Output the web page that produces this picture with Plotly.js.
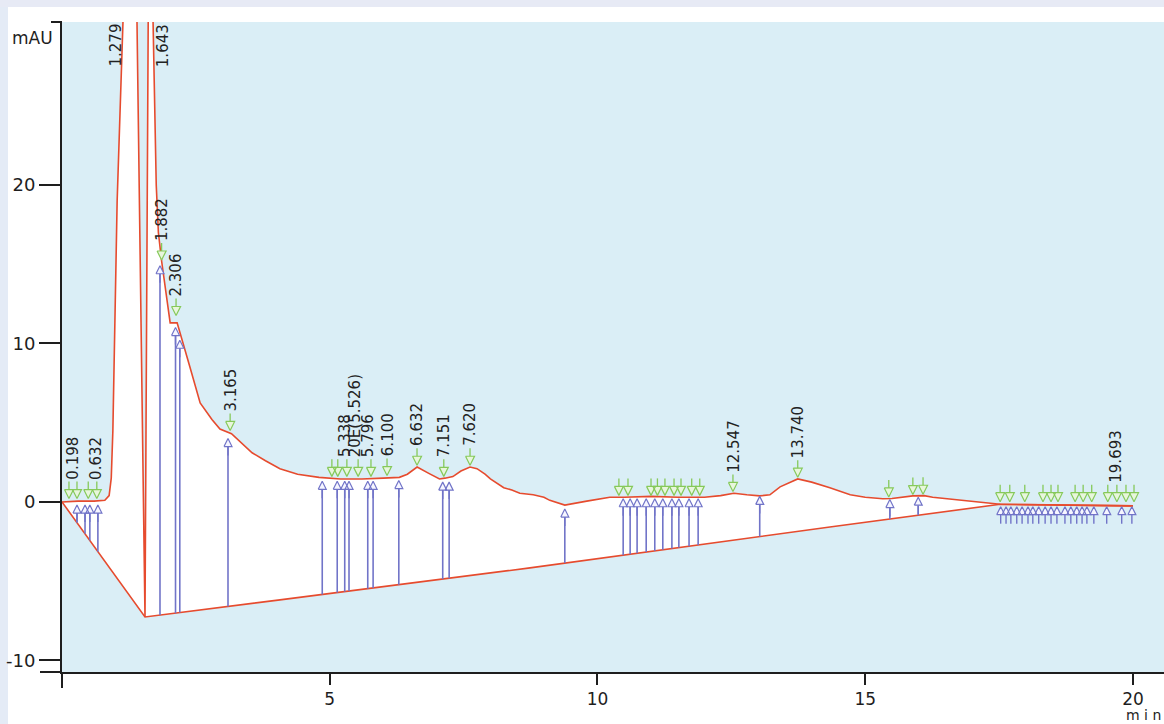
<!DOCTYPE html>
<html><head><meta charset="utf-8">
<script src="https://cdn.plot.ly/plotly-3.0.1.min.js"></script>
<style>html,body{margin:0;padding:0;background:#fff;}#chart{width:1164px;height:724px;}</style>
</head><body><div id="chart"></div>
<script>
// ---- chromatogram signal (min, mAU) ----
const sigT = [0, 0.3, 0.6, 0.8, 0.88, 0.92, 0.95, 1.03, 1.14, 1.279, 1.40, 1.55, 1.61, 1.643, 1.70, 1.76, 1.80, 1.86, 2.02, 2.15, 2.39, 2.58, 2.80, 2.95, 3.165, 3.35, 3.55, 3.8, 4.07, 4.4, 4.8, 5.2, 5.6, 6.0, 6.3, 6.45, 6.632, 6.85, 7.05, 7.151, 7.3, 7.45, 7.62, 7.75, 7.9, 8.0, 8.15, 8.25, 8.4, 8.55, 8.8, 9.0, 9.11, 9.39, 9.8, 10.23, 10.5, 11.0, 11.5, 12.0, 12.3, 12.547, 12.79, 13.03, 13.22, 13.41, 13.74, 14.0, 14.34, 14.72, 15.0, 15.33, 15.5, 15.7, 15.89, 16.1, 16.26, 16.53, 17.0, 17.52, 18.0, 18.5, 19.0, 19.5, 20.0];
const sigV = [0, 0.05, 0.05, 0.1, 0.4, 1.5, 4.5, 19, 30.4, 55, 30.4, -7.26, 30.4, 50, 30.4, 20, 17, 15.2, 11.3, 11.3, 8.5, 6.25, 5.2, 4.6, 4.3, 3.7, 3.1, 2.6, 2.1, 1.75, 1.55, 1.45, 1.45, 1.5, 1.55, 1.75, 2.2, 1.8, 1.45, 1.5, 1.6, 1.95, 2.2, 2.1, 1.75, 1.45, 1.15, 0.9, 0.75, 0.55, 0.45, 0.3, 0.1, -0.2, 0.05, 0.3, 0.3, 0.35, 0.3, 0.3, 0.4, 0.55, 0.45, 0.38, 0.45, 0.95, 1.45, 1.25, 0.9, 0.45, 0.3, 0.2, 0.22, 0.3, 0.38, 0.4, 0.3, 0.2, 0.05, -0.15, -0.17, -0.19, -0.21, -0.23, -0.25];

// ---- integration baseline ----
const baseT = [0, 1.55, 4.07, 8.74, 14.34, 17.52, 20.0];
const baseV = [0, -7.26, -6.18, -4.16, -1.58, -0.15, -0.25];

// ---- peak start/end drop lines (blue) ----
const dropT = [0.28, 0.43, 0.52, 0.67, 1.83, 2.12, 2.20, 3.10, 4.86, 5.14, 5.28, 5.36, 5.71, 5.81, 6.29, 7.11, 7.23, 9.39, 10.48, 10.61, 10.74, 10.91, 11.07, 11.22, 11.39, 11.52, 11.71, 11.88, 13.03, 15.46, 15.99, 17.53, 17.63, 17.72, 17.83, 17.93, 18.04, 18.13, 18.24, 18.36, 18.47, 18.58, 18.73, 18.84, 18.95, 19.05, 19.14, 19.27, 19.51, 19.79, 19.98];
const dropTop = [-0.2, -0.2, -0.2, -0.2, 14.9, 11.0, 10.2, 4.0, 1.3, 1.3, 1.3, 1.3, 1.3, 1.3, 1.35, 1.25, 1.25, -0.45, 0.2, 0.2, 0.2, 0.2, 0.2, 0.2, 0.2, 0.2, 0.2, 0.2, 0.35, 0.15, 0.3, -0.3, -0.3, -0.3, -0.3, -0.3, -0.3, -0.3, -0.3, -0.3, -0.3, -0.3, -0.3, -0.3, -0.3, -0.3, -0.3, -0.3, -0.3, -0.3, -0.3];
const dropBottom = [-1.31, -2.01, -2.44, -3.14, -7.14, -7.02, -6.98, -6.60, -5.84, -5.72, -5.66, -5.62, -5.47, -5.43, -5.22, -4.87, -4.81, -3.86, -3.36, -3.30, -3.24, -3.16, -3.09, -3.02, -2.94, -2.88, -2.79, -2.71, -2.18, -1.08, -0.84, -0.3, -0.3, -0.3, -0.3, -0.3, -0.3, -0.3, -0.3, -0.3, -0.3, -0.3, -0.3, -0.3, -0.3, -0.3, -0.3, -0.3, -0.3, -0.3, -0.3];

// ---- peak apex markers (green) ----
const apexT = [0.13, 0.28, 0.49, 0.65, 1.86, 2.13, 3.14, 5.04, 5.15, 5.32, 5.53, 5.77, 6.07, 6.63, 7.13, 7.62, 10.40, 10.57, 11.00, 11.12, 11.26, 11.43, 11.56, 11.76, 11.91, 12.53, 13.74, 15.44, 15.89, 16.08, 17.52, 17.70, 17.98, 18.32, 18.47, 18.60, 18.92, 19.07, 19.23, 19.53, 19.70, 19.87, 20.02];
const apexV = [0.15, 0.15, 0.15, 0.15, 15.2, 11.7, 4.45, 1.55, 1.55, 1.55, 1.55, 1.55, 1.6, 2.25, 1.55, 2.25, 0.35, 0.35, 0.35, 0.35, 0.35, 0.35, 0.35, 0.35, 0.35, 0.6, 1.5, 0.25, 0.4, 0.42, -0.05, -0.05, -0.05, -0.05, -0.05, -0.05, -0.05, -0.05, -0.05, -0.05, -0.05, -0.05, -0.05];

// ---- retention time labels ----
const labelText = ['0.198', '0.632', '1.882', '2.306', '3.165', '5.338', '20E(5.526)', '5.796', '6.100', '6.632', '7.151', '7.620', '12.547', '13.740', '19.693'];
const labelT = [0.198, 0.632, 1.86, 2.12, 3.15, 5.29, 5.46, 5.72, 6.09, 6.632, 7.14, 7.62, 12.547, 13.74, 19.693];
const labelV = [0.15, 0.15, 15.2, 11.7, 4.45, 1.55, 1.55, 1.55, 1.6, 2.25, 1.55, 2.25, 0.6, 1.5, -0.05];
const topLabelText = ['1.279', '1.643'];
const topLabelT = [0.99, 1.88];

// ---- axes ----
const xRange = [0, 20.58];
const yRange = [-10.73, 30.28];
const xTicks = [5, 10, 15, 20];
const yTicks = [-10, 0, 10, 20];
const yTickText = ['-10', '0', '10', '20'];

const W = 1164, H = 724;
const M = {l: 62, r: 0, t: 22, b: 52, pad: 0};
const plotW = W - M.l - M.r, plotH = H - M.t - M.b;
const dx = (xRange[1] - xRange[0]) / plotW;   // data units per pixel
const dy = (yRange[1] - yRange[0]) / plotH;

const RED = '#e64b2e', BLUE = '#7174c8', GREEN = '#86c95a', INK = '#1e1e1e';

// blue drop lines and up-arrow glyphs
const dlx = [], dly = [], bhx = [], bhy = [], bsx = [], bsy = [];
dropT.forEach((t, i) => {
  const top = dropTop[i], bot = dropBottom[i];
  if (bot < top - 8 * dy) { dlx.push(t, t, null); dly.push(bot, top - 8 * dy, null); }
  bhx.push(t - 4 * dx, t + 4 * dx, t, t - 4 * dx, null);
  bhy.push(top - 8 * dy, top - 8 * dy, top, top - 8 * dy, null);
  bsx.push(t, t, null);
  bsy.push(top - 8 * dy, top - 17 * dy, null);
});

// green down-arrow glyphs
const ghx = [], ghy = [], gsx = [], gsy = [];
apexT.forEach((t, i) => {
  const v = apexV[i];
  ghx.push(t - 4.5 * dx, t + 4.5 * dx, t, t - 4.5 * dx, null);
  ghy.push(v + 10 * dy, v + 10 * dy, v + 1 * dy, v + 10 * dy, null);
  gsx.push(t, t, null);
  gsy.push(v + 10 * dy, v + 18 * dy, null);
});

const traces = [
  {x: baseT, y: baseV, mode: 'lines', line: {color: RED, width: 1.6}, hoverinfo: 'skip'},
  {x: sigT, y: sigV, mode: 'lines', fill: 'tonexty', fillcolor: '#ffffff', line: {color: RED, width: 1.6}, hoverinfo: 'skip'},
  {x: dlx, y: dly, mode: 'lines', line: {color: BLUE, width: 1.6}, hoverinfo: 'skip'},
  {x: bsx, y: bsy, mode: 'lines', line: {color: BLUE, width: 1.4}, hoverinfo: 'skip'},
  {x: bhx, y: bhy, mode: 'lines', fill: 'toself', fillcolor: '#f6f6ff', line: {color: BLUE, width: 1.2}, hoverinfo: 'skip'},
  {x: gsx, y: gsy, mode: 'lines', line: {color: GREEN, width: 1.3}, hoverinfo: 'skip'},
  {x: ghx, y: ghy, mode: 'lines', fill: 'toself', fillcolor: '#e8f6dc', line: {color: GREEN, width: 1.2}, hoverinfo: 'skip'}
];

const labelFont = {family: 'DejaVu Sans, Arial, sans-serif', size: 15, color: '#222'};
const annotations = labelText.map((s, i) => ({
  x: labelT[i], y: labelV[i], xref: 'x', yref: 'y', text: s, showarrow: false,
  textangle: -90, xanchor: 'center', yanchor: 'bottom', yshift: 19, font: labelFont, borderpad: 0
}));
topLabelText.forEach((s, i) => annotations.push({
  x: topLabelT[i], y: 1, xref: 'x', yref: 'paper', text: s, showarrow: false,
  textangle: -90, xanchor: 'center', yanchor: 'top', yshift: -1, font: labelFont, borderpad: 0
}));
annotations.push({x: -52 / plotW, y: 1 - 16 / plotH, xref: 'paper', yref: 'paper', text: 'mAU', showarrow: false,
  xanchor: 'left', yanchor: 'middle', font: {family: 'DejaVu Sans, Arial, sans-serif', size: 17, color: INK}});
annotations.push({x: 1100 / plotW, y: -34 / plotH, xref: 'paper', yref: 'paper', text: 'm i n', showarrow: false,
  xanchor: 'right', yanchor: 'top', font: {family: 'DejaVu Sans, Arial, sans-serif', size: 14, color: INK}, borderpad: 0});

const shapes = [
  {type: 'rect', xref: 'paper', yref: 'paper', x0: -62 / plotW, x1: -54 / plotW, y0: -52 / plotH, y1: 1 + 22 / plotH, fillcolor: '#e4ebf6', line: {width: 0}, layer: 'below'},
  {type: 'rect', xref: 'paper', yref: 'paper', x0: -62 / plotW, x1: 1, y0: 1 + 15 / plotH, y1: 1 + 22 / plotH, fillcolor: '#e7eaf5', line: {width: 0}, layer: 'below'},
  {type: 'line', xref: 'paper', yref: 'paper', x0: -22 / plotW, x1: 0, y0: 0, y1: 0, line: {color: INK, width: 2}},
  {type: 'line', xref: 'paper', yref: 'paper', x0: 0, x1: 0, y0: 0, y1: -16 / plotH, line: {color: INK, width: 2}},
  {type: 'line', xref: 'paper', yref: 'paper', x0: -11 / plotW, x1: 0, y0: 1, y1: 1, line: {color: INK, width: 2}}
];

const layout = {
  width: W, height: H, margin: M, showlegend: false, hovermode: false,
  paper_bgcolor: '#ffffff', plot_bgcolor: '#daeef6',
  font: {family: 'DejaVu Sans, Arial, sans-serif', color: INK},
  xaxis: {range: xRange, tickvals: xTicks, ticks: 'outside', ticklen: 11, tickwidth: 2, tickcolor: INK,
    showline: true, linecolor: INK, linewidth: 2, showgrid: false, zeroline: false,
    tickfont: {family: 'DejaVu Sans, Arial, sans-serif', size: 17, color: INK}},
  yaxis: {range: yRange, tickvals: yTicks, ticktext: yTickText, ticks: 'outside', ticklen: 21, tickwidth: 2, tickcolor: INK,
    showline: true, linecolor: INK, linewidth: 2, showgrid: false, zeroline: false,
    tickfont: {family: 'DejaVu Sans, Arial, sans-serif', size: 18, color: INK}},
  annotations: annotations, shapes: shapes
};

Plotly.newPlot('chart', traces, layout, {staticPlot: true, displayModeBar: false});
</script></body></html>
